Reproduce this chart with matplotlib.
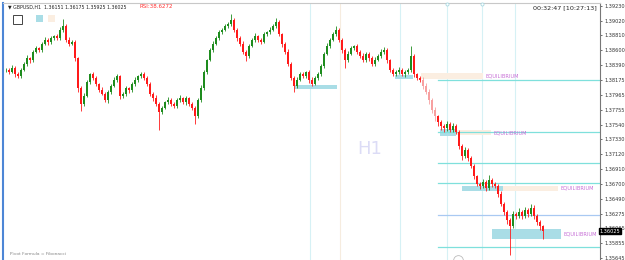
import matplotlib
matplotlib.use("Agg")
import matplotlib.pyplot as plt
import matplotlib.transforms as mtransforms
from matplotlib.patches import Rectangle

# GBPUSD H1 closes, one per bar
closes = [1.3832, 1.3829, 1.3835, 1.3826, 1.3823, 1.3832, 1.3840, 1.3849, 1.3846, 1.3858,
          1.3863, 1.3860, 1.3869, 1.3875, 1.3872, 1.3877, 1.3880, 1.3877, 1.3889, 1.3894,
          1.3875, 1.3869, 1.3872, 1.3849, 1.3806, 1.3784, 1.3795, 1.3815, 1.3826, 1.3821,
          1.3812, 1.3803, 1.3798, 1.3789, 1.3801, 1.3809, 1.3818, 1.3823, 1.3795, 1.3798,
          1.3806, 1.3803, 1.3812, 1.3818, 1.3823, 1.3826, 1.3821, 1.3812, 1.3798, 1.3792,
          1.3784, 1.3772, 1.3778, 1.3786, 1.3789, 1.3784, 1.3781, 1.3789, 1.3792, 1.3786,
          1.3792, 1.3784, 1.3778, 1.3766, 1.3789, 1.3806, 1.3829, 1.3846, 1.3860, 1.3869,
          1.3877, 1.3886, 1.3889, 1.3894, 1.3897, 1.3903, 1.3889, 1.3877, 1.3869, 1.3858,
          1.3852, 1.3866, 1.3875, 1.3880, 1.3875, 1.3872, 1.3883, 1.3886, 1.3889, 1.3894,
          1.3900, 1.3883, 1.3869, 1.3858, 1.3840, 1.3821, 1.3809, 1.3818, 1.3826, 1.3823,
          1.3829, 1.3818, 1.3812, 1.3821, 1.3826, 1.3838, 1.3855, 1.3866, 1.3875, 1.3883,
          1.3889, 1.3875, 1.3860, 1.3846, 1.3855, 1.3863, 1.3866, 1.3858, 1.3852, 1.3846,
          1.3855, 1.3849, 1.3840, 1.3846, 1.3852, 1.3858, 1.3860, 1.3846, 1.3832, 1.3826,
          1.3829, 1.3832, 1.3826, 1.3829, 1.3832, 1.3852, 1.3826, 1.3821, 1.3818, 1.3809,
          1.3801, 1.3789, 1.3775, 1.3766, 1.3758, 1.3752, 1.3749, 1.3755, 1.3747, 1.3752,
          1.3744, 1.3724, 1.3710, 1.3718, 1.3707, 1.3695, 1.3681, 1.3670, 1.3667, 1.3673,
          1.3664, 1.3675, 1.3670, 1.3667, 1.3655, 1.3641, 1.3630, 1.3618, 1.3610, 1.3627,
          1.3624, 1.3630, 1.3624, 1.3633, 1.3627, 1.3636, 1.3624, 1.3616, 1.3610, 1.36025]

# wick lengths in pips above / below the body
wick_up = [3, 2, 4, 2, 3, 2, 3, 4, 2, 3, 3, 2, 3, 4, 2, 3, 2, 3, 4, 11,
           3, 4, 2, 3, 2, 3, 4, 3, 2, 3, 3, 2, 4, 2, 3, 3, 4, 3, 2, 3,
           3, 2, 3, 4, 2, 3, 3, 2, 3, 2, 4, 3, 3, 2, 4, 3, 2, 3, 4, 2,
           3, 2, 3, 2, 3, 4, 3, 2, 3, 4, 3, 3, 2, 4, 3, 8, 3, 2, 3, 4,
           2, 3, 3, 4, 2, 3, 3, 2, 4, 3, 6, 3, 2, 3, 4, 3, 2, 4, 3, 3,
           2, 3, 4, 2, 3, 3, 2, 4, 3, 3, 6, 3, 2, 3, 4, 3, 2, 3, 3, 4,
           2, 3, 3, 4, 2, 4, 5, 3, 2, 3, 3, 4, 2, 3, 3, 14, 3, 2, 3, 4,
           5, 4, 3, 4, 2, 3, 3, 4, 3, 5, 3, 2, 3, 4, 3, 2, 3, 2, 3, 4,
           3, 8, 3, 2, 3, 4, 3, 2, 3, 4, 3, 5, 3, 4, 3, 5, 4, 3, 3, 2]
wick_dn = [3, 3, 2, 4, 3, 3, 2, 3, 4, 3, 2, 3, 3, 2, 4, 3, 3, 2, 3, 3,
           4, 3, 2, 4, 5, 11, 3, 2, 3, 4, 3, 3, 2, 3, 4, 3, 2, 3, 4, 3,
           3, 4, 2, 3, 3, 2, 4, 3, 3, 4, 3, 25, 3, 2, 3, 4, 3, 3, 2, 3,
           4, 3, 3, 11, 3, 2, 3, 3, 2, 3, 2, 3, 3, 2, 3, 2, 3, 4, 3, 3,
           8, 3, 2, 3, 4, 3, 2, 3, 3, 2, 3, 3, 4, 3, 3, 4, 8, 3, 2, 3,
           3, 4, 3, 2, 3, 3, 3, 2, 3, 2, 3, 3, 4, 11, 3, 2, 3, 4, 3, 3,
           3, 4, 3, 3, 2, 3, 3, 4, 3, 3, 2, 3, 3, 4, 3, 3, 4, 3, 3, 4,
           4, 6, 5, 6, 6, 5, 6, 4, 3, 4, 3, 4, 6, 3, 4, 3, 4, 3, 5, 3,
           4, 3, 4, 3, 4, 3, 4, 5, 41, 3, 4, 3, 4, 3, 4, 3, 4, 5, 6, 11]
faded_bars = [139, 140, 141, 142, 143]

price_ticks = [1.39230, 1.39020, 1.38810, 1.38600, 1.38390, 1.38175, 1.37965, 1.37755,
               1.37540, 1.37330, 1.37120, 1.36910, 1.36700, 1.36490, 1.36275, 1.36065,
               1.35855, 1.35645]
last_price = 1.36025

# fib pivot levels drawn from the last session start
level_start = 144
level_prices = [1.38177, 1.37438, 1.36997, 1.36712, 1.36257, 1.35802]
level_colors = ["#7fe0dc", "#7fe0dc", "#7fe0dc", "#7fe0dc", "#a9c9f2", "#7fe0dc"]

# zones: first bar, last bar, low, high, kind
zones = [(96.0, 110.3, 1.3805, 1.3811, "blue"),
         (129.7, 135.7, 1.3819, 1.3825, "blue"),
         (138.3, 159.0, 1.3819, 1.3828, "beige"),
         (144.7, 150.0, 1.3738, 1.3748, "blue"),
         (150.0, 161.7, 1.3739, 1.3746, "beige"),
         (152.0, 165.7, 1.3660, 1.3667, "blue"),
         (165.7, 184.0, 1.3660, 1.3667, "beige"),
         (162.0, 185.0, 1.3591, 1.3606, "blue")]
equilibrium_zones = [2, 4, 6, 7]

# session separators (bar index, colour); the last two carry a marker on top
separators = [(101.3, "#d6f1f5"), (111.3, "#f6ecdf"), (131.3, "#d6f1f5"),
              (147.0, "#d6f1f5"), (158.7, "#d6f1f5"), (169.7, "#d6f1f5")]
marked_separators = [147.0, 158.7]

W, H = 625, 260
fig = plt.figure(figsize=(W / 100, H / 100), dpi=100)
ax = fig.add_axes([3 / W, 0, 597 / W, 257 / H])

xmax = 198
ax.set_xlim(-1, xmax)
ax.set_ylim(1.35615, 1.39272)

for x, c in separators:
    ax.axvline(x, color=c, lw=0.8, zorder=0)
top = mtransforms.blended_transform_factory(ax.transData, ax.transAxes)
for x in marked_separators:
    ax.plot([x], [0.995], transform=top, marker="o", ms=2.2, mfc="white", mec="#a8d8e0",
            mew=0.6, clip_on=False, zorder=4)
# scroll handle at the bottom edge
ax.plot([150.7], [0.0], transform=top, marker="o", ms=7, mfc="none", mec="#bbbbbb",
        mew=0.6, clip_on=True, zorder=4)

zone_col = {"blue": "#a9dde6", "beige": "#fbeee1"}
for x0, x1, lo, hi, kind in zones:
    ax.add_patch(Rectangle((x0, lo), x1 - x0, hi - lo, color=zone_col[kind], lw=0, zorder=1))
for i in equilibrium_zones:
    x0, x1, lo, hi, kind = zones[i]
    ax.text(x1 + 0.8, (lo + hi) / 2, "EQUILIBRIUM", color="#c76fd6", fontsize=3.7,
            va="center", ha="left", zorder=5)

for p, c in zip(level_prices, level_colors):
    ax.plot([level_start, xmax], [p, p], color=c, lw=0.9, zorder=2)

pip = 0.0001
opens = [closes[0]] + closes[:-1]
for i, (o, c) in enumerate(zip(opens, closes)):
    up = c >= o
    if i in faded_bars:
        col = "#8fcf8f" if up else "#f7a0a0"
    else:
        col = "#1e8c1e" if up else "#ff1a1a"
    lo, hi = min(o, c), max(o, c)
    ax.vlines(i, lo - wick_dn[i] * pip, hi + wick_up[i] * pip, color=col, lw=0.6, zorder=3)
    ax.add_patch(Rectangle((i - 0.33, lo), 0.66, max(hi - lo, 0.00004), color=col, lw=0,
                           zorder=3))

ax.text(0.615, 0.43, "H1", transform=ax.transAxes, fontsize=13, color="#dcdcf6",
        ha="center", va="center", zorder=0)

ax.yaxis.tick_right()
ax.set_yticks(price_ticks)
ax.set_yticklabels([f"{p:.5f}" for p in price_ticks])
ax.tick_params(axis="y", labelsize=3.6, length=1.5, width=0.5, pad=1.5, colors="#333333")
ax.set_xticks([])
ax.spines["bottom"].set_visible(False)
ax.spines["top"].set_color("#c8c8c8")
ax.spines["left"].set_color("#4d86d6")
ax.spines["left"].set_linewidth(1.5)
ax.spines["right"].set_color("#777777")
ax.spines["right"].set_linewidth(0.8)

# current price box
ax.text(1.0, last_price, f"{last_price:.5f}", transform=ax.get_yaxis_transform(),
        fontsize=3.6, color="white", va="center", ha="left", zorder=6,
        bbox=dict(boxstyle="square,pad=0.12", fc="black", ec="black"))

fig.text(8 / W, 1 - 7 / H, "▼ GBPUSD,H1  1.36151 1.36175 1.35925 1.36025", fontsize=3.4,
         color="#222222", va="center")
fig.text(140 / W, 1 - 7 / H, "RSI:38.6272", fontsize=4, color="#ff3030", va="center")
fig.text(597 / W, 1 - 8 / H, "00:32:47 [10:27:13]", fontsize=4.6, color="#222222",
         va="center", ha="right")
fig.text(10 / W, 1 - 254 / H, "Pivot Formula = Fibonacci", fontsize=3.2, color="#888888",
         va="center")
fig.patches.append(Rectangle((13 / W, 1 - 24 / H), 9 / W, 9 / H, transform=fig.transFigure,
                             fc="white", ec="#444444", lw=0.7))
fig.patches.append(Rectangle((36 / W, 1 - 22 / H), 7 / W, 7 / H, transform=fig.transFigure,
                             fc="#a9dde6", ec="none"))
fig.patches.append(Rectangle((48 / W, 1 - 22 / H), 7 / W, 7 / H, transform=fig.transFigure,
                             fc="#fbeee1", ec="none"))

fig.savefig("out.png", dpi=100)
